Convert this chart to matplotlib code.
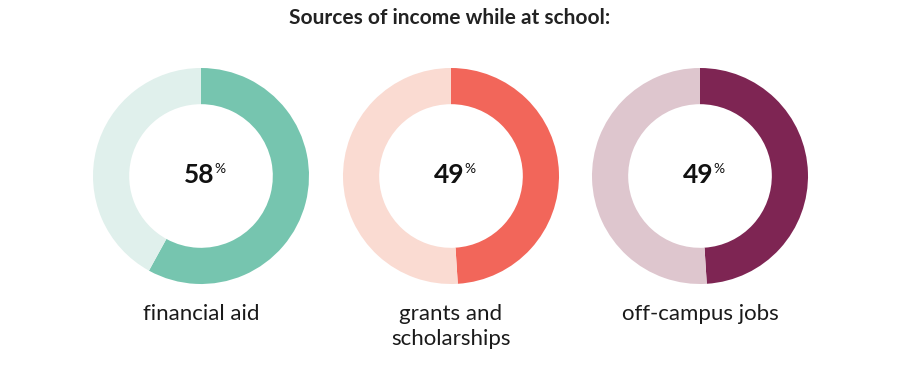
import matplotlib
matplotlib.use("Agg")
import matplotlib.pyplot as plt

categories = ["financial aid", "grants and\nscholarships", "off-campus jobs"]
values = [58, 49, 49]
main_colors = ["#76C5AF", "#F2665A", "#7E2553"]
light_colors = ["#E0F0EC", "#FADBD2", "#DEC6CE"]
title = "Sources of income while at school:"

W, H = 900, 368
fig = plt.figure(figsize=(9, 3.68), dpi=100)
fig.patch.set_facecolor("white")

centers_x = [201, 451, 700]
cy = 176
R = 108

for i, (cat, v) in enumerate(zip(categories, values)):
    cx = centers_x[i]
    ax = fig.add_axes([(cx - R) / W, (H - cy - R) / H, 2 * R / W, 2 * R / H])
    ax.pie([v, 100 - v], colors=[main_colors[i], light_colors[i]], startangle=90,
           counterclock=False, radius=1.0,
           wedgeprops=dict(width=0.335, edgecolor="none"))
    ax.set_xlim(-1, 1)
    ax.set_ylim(-1, 1)
    ax.set_aspect("equal")
    ax.axis("off")
    # number + superscript percent
    ax.text(0.125, -0.065, f"{v}", ha="right", va="baseline", fontsize=19,
            fontweight="bold", family="Lato", color="#111111")
    ax.text(0.125, 0.025, "%", ha="left", va="baseline", fontsize=10,
            family="Lato", color="#111111")
    fig.text(cx / W, 1 - 304 / H, cat, ha="center", va="top", fontsize=16,
             family="Lato", color="#1a1a1a", linespacing=1.3)

fig.text(0.5, 1 - 18 / H, title, ha="center", va="center", fontsize=15,
         fontweight="bold", family="Lato", color="#222222")

fig.savefig("out.png", dpi=100, facecolor="white")
